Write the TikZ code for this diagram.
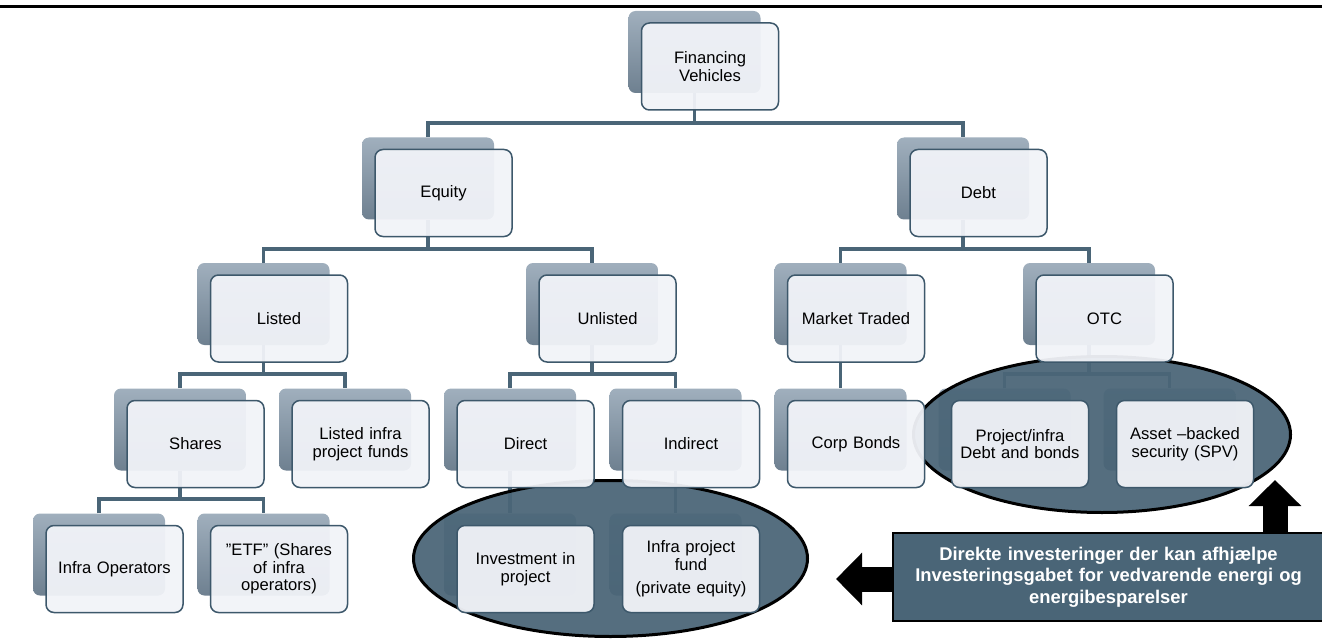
\documentclass[tikz,border=0pt]{standalone}
\usepackage{fontspec}
\setmainfont{Liberation Sans}
\usetikzlibrary{arrows.meta,calc,shapes.geometric}
\definecolor{slate}{RGB}{74,101,119}
\definecolor{edgec}{RGB}{61,88,107}
\definecolor{shtop}{RGB}{160,175,189}
\definecolor{shbot}{RGB}{110,128,144}
\definecolor{frontc}{RGB}{241,243,248}
\pgfdeclarelayer{bg}\pgfdeclarelayer{shad}\pgfdeclarelayer{ell}
\pgfsetlayers{bg,shad,ell,main}
\tikzset{
 shbox/.style={shade, top color=shtop, bottom color=shbot, rounded corners=7pt, minimum width=132pt, minimum height=82pt, inner sep=0pt},
 frbox/.style={draw=edgec, line width=1.5pt, fill=frontc, fill opacity=0.95, text opacity=1, rounded corners=8pt, minimum width=137pt, minimum height=87pt, inner sep=2pt, text width=130pt, align=center, font=\fontsize{16.6}{17.5}\selectfont},
 conn/.style={draw=slate, line width=3.5pt},
 ring/.style={ellipse, draw=black, line width=3pt, fill=slate, fill opacity=0.94, inner sep=0pt},
 callbox/.style={draw=black, line width=2.5pt, fill=slate, text=white, font=\bfseries\fontsize{18.4}{21.5}\selectfont, align=center, minimum width=431pt, minimum height=88pt, inner sep=0pt, text width=425pt},
 blockarrow/.style={draw=black, line width=25pt, -{Triangle[width=51pt,length=26pt]}},
}
\newcommand{\fbx}[4]{%
 \begin{pgfonlayer}{shad}\node[shbox] (#1S) at ({#2-15.5},{#3-14.5}) {};\end{pgfonlayer}
 \node[frbox] (#1) at (#2,#3) {#4};}
\begin{document}
\begin{tikzpicture}[x=1pt,y=-1pt]
\useasboundingbox (0,0) rectangle (1322,639);
\draw[line width=3pt] (0,6.5) -- (1322,6.5);
% boxes
\fbx{fv}{710}{66.5}{Financing\\Vehicles}
\fbx{eq}{443.5}{193}{Equity}
\fbx{db}{978.5}{193}{Debt}
\fbx{li}{279}{318.5}{Listed}
\fbx{ul}{607.5}{318.5}{Unlisted}
\fbx{mt}{856}{318.5}{Market Traded}
\fbx{otc}{1104.5}{318.5}{OTC}
\fbx{sh}{195.5}{444}{Shares}
\fbx{lf}{360.5}{444}{Listed infra\\project funds}
\fbx{di}{525.5}{444}{Direct}
\fbx{ind}{691}{444}{Indirect}
\fbx{cb}{856}{444}{Corp Bonds}
\fbx{pi}{1020}{444}{Project/infra\\Debt and bonds}
\fbx{ab}{1185}{444}{Asset –backed\\security (SPV)}
\fbx{io}{114.5}{569}{Infra Operators}
\fbx{etf}{279}{569}{”ETF” (Shares\\of infra\\operators)}
\fbx{inv}{525.5}{569}{Investment in\\project}
\fbx{ipf}{691}{569}{Infra project\\fund\\[6pt](private equity)}
% bus coordinates
\coordinate (b0) at (0,123);
\coordinate (b1) at (0,249);
\coordinate (b2) at (0,374);
\coordinate (b3) at (0,499);
\begin{pgfonlayer}{bg}
\draw[conn] (fvS.south) -- (fvS.south |- b0);
\draw[conn] (eqS.north) |- (fvS.south |- b0) -| (dbS.north);
\draw[conn] (eqS.south) -- (eqS.south |- b1);
\draw[conn] (liS.north) |- (eqS.south |- b1) -| (ulS.north);
\draw[conn] (dbS.south) -- (dbS.south |- b1);
\draw[conn] (mtS.north) |- (dbS.south |- b1) -| (otcS.north);
\draw[conn] (liS.south) -- (liS.south |- b2);
\draw[conn] (shS.north) |- (liS.south |- b2) -| (lfS.north);
\draw[conn] (ulS.south) -- (ulS.south |- b2);
\draw[conn] (diS.north) |- (ulS.south |- b2) -| (indS.north);
\draw[conn] (mtS.south) -- (cbS.north);
\draw[conn] (otcS.south) -- (otcS.south |- b2);
\draw[conn] (piS.north) |- (otcS.south |- b2) -| (abS.north);
\draw[conn] (shS.south) -- (shS.south |- b3);
\draw[conn] (ioS.north) |- (shS.south |- b3) -| (etfS.north);
\draw[conn] (diS.south) -- (invS.north);
\draw[conn] (indS.south) -- (ipfS.north);
\end{pgfonlayer}
% highlight ellipses
\begin{pgfonlayer}{ell}
\node[ring, minimum width=394pt, minimum height=156pt] (ellL) at (610.5,558.5) {};
\node[ring, minimum width=377pt, minimum height=156pt] (ellR) at (1102,434.5) {};
\end{pgfonlayer}
% callout
\node[callbox] (call) at (1108.5,577) {Direkte investeringer der kan afhjælpe\\Investeringsgabet for vedvarende energi og\\energibesparelser};
\coordinate (upTip) at (1275,480);
\coordinate (leftTip) at (836,579);
\begin{pgfonlayer}{ell}
\draw[blockarrow] (call.north -| upTip) -- (upTip);
\draw[blockarrow] (call.west |- leftTip) -- (leftTip);
\end{pgfonlayer}
\end{tikzpicture}
\end{document}
